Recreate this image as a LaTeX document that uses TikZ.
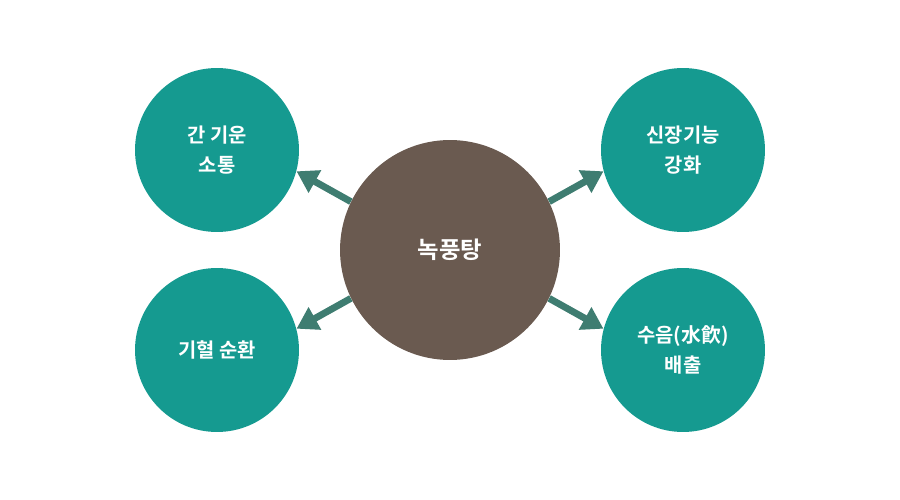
\documentclass[tikz,border=0pt]{standalone}
\usepackage{fontspec}
\newfontfamily\kr{Noto Sans CJK KR Bold}
\usetikzlibrary{arrows.meta}
\definecolor{teal1}{HTML}{159A90}
\definecolor{brown1}{HTML}{6A5A50}
\definecolor{arr}{HTML}{3F7D71}
\tikzset{
  outer/.style={circle, fill=teal1, minimum size=3.28cm, inner sep=0pt, text=white, font=\kr\fontsize{11.3pt}{17.5pt}\selectfont, align=center},
  center/.style={circle, fill=brown1, minimum size=4.4cm, inner sep=0pt, text=white, font=\kr\fontsize{13.3pt}{16pt}\selectfont},
  conn/.style={draw=arr, line width=3.9pt, -{Triangle[length=12pt,width=14pt]}}
}
\begin{document}
\begin{tikzpicture}[x=0.02cm,y=-0.02cm]
\useasboundingbox (0,0) rectangle (900,500);
\node[center] (c) at (450,250) {녹풍탕};
\node[outer] (tl) at (217,150) {간 기운\\소통};
\node[outer] (bl) at (217,350) {기혈 순환};
\node[outer] (tr) at (683,150) {신장기능\\강화};
\node[outer] (br) at (683,350) {수음(水飮)\\배출};
\draw[conn] (c.154) -- (tl.-15);
\draw[conn] (c.206) -- (bl.15);
\draw[conn] (c.26) -- (tr.195);
\draw[conn] (c.-26) -- (br.165);
\end{tikzpicture}
\end{document}
